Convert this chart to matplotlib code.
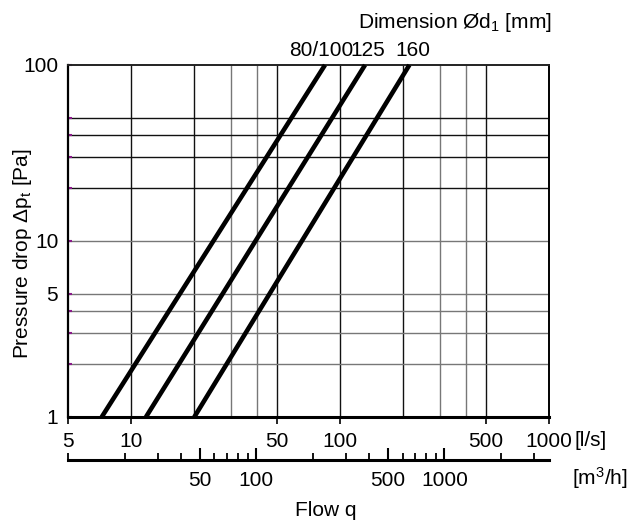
import matplotlib
matplotlib.use("Agg")
import matplotlib.pyplot as plt
from matplotlib.ticker import NullFormatter, NullLocator

plt.rcParams['font.family'] = ['Liberation Sans', 'DejaVu Sans']
plt.rcParams['mathtext.fontset'] = 'custom'
plt.rcParams['mathtext.rm'] = 'Liberation Sans'
plt.rcParams['mathtext.it'] = 'Liberation Sans'
plt.rcParams['mathtext.default'] = 'rm'
FS = 15

# ---- data ----
dimensions = ["80/100", "125", "160"]
flow_ls_start = [7.25, 11.8, 20.1]     # l/s at 1 Pa
flow_ls_end = [84.8, 131.8, 214.8]     # l/s at 100 Pa
dp_start = 1
dp_end = 100

x_ticks = [5, 10, 50, 100, 500, 1000]
x_ticklabels = ["5", "10", "50", "100", "500", "1000"]
y_ticks = [1, 2, 3, 4, 5, 10, 20, 30, 40, 50, 100]
y_ticklabels = ["1", "", "", "", "5", "10", "", "", "", "", "100"]
vgrid_dark = [10, 20, 50, 100, 200, 500]
vgrid_light = [30, 40, 300, 400]
hgrid_dark = [20, 30, 40, 50]
hgrid_light = [2, 3, 4, 5, 10]
m3h_major = [50, 100, 500, 1000]
m3h_labels = ["50", "100", "500", "1000"]
m3h_minor = [10, 20, 30, 40, 60, 70, 80, 90, 200, 300, 400, 600, 700, 800, 900, 2000, 3000]

W, H = 644, 527
fig = plt.figure(figsize=(W / 100, H / 100), dpi=100)

def fx(px):
    return px / W

def fy(py):
    return 1 - py / H

L, R, T, B = 68, 549, 65, 417
ax = fig.add_axes([fx(L), fy(B), fx(R) - fx(L), fy(T) - fy(B)])
ax.set_xscale('log')
ax.set_yscale('log')
ax.set_xlim(5, 1000)
ax.set_ylim(1, 100)

for v in vgrid_dark:
    ax.axvline(v, color='#111111', lw=1.0, zorder=1)
for v in vgrid_light:
    ax.axvline(v, color='#777777', lw=1.0, zorder=1)
for v in hgrid_dark:
    ax.axhline(v, color='#111111', lw=1.0, zorder=1)
for v in hgrid_light:
    ax.axhline(v, color='#777777', lw=1.0, zorder=1)

for x0, x1 in zip(flow_ls_start, flow_ls_end):
    ax.plot([x0, x1], [dp_start, dp_end], color='black', lw=3.3,
            solid_capstyle='butt', clip_on=False, zorder=3)

ax.set_xticks(x_ticks)
ax.set_xticklabels(x_ticklabels)
ax.xaxis.set_minor_locator(NullLocator())
ax.xaxis.set_minor_formatter(NullFormatter())
ax.tick_params(axis='x', which='major', direction='out', length=5, width=1.2,
               pad=6, labelsize=FS)

ax.set_yticks(y_ticks)
ax.set_yticklabels(y_ticklabels)
ax.yaxis.set_minor_locator(NullLocator())
ax.yaxis.set_minor_formatter(NullFormatter())
ax.tick_params(axis='y', which='major', direction='in', length=3, width=1.5,
               color='#8a1a8a', pad=7, labelsize=FS, labelcolor='black')

ax.spines['bottom'].set_linewidth(2.2)
ax.spines['left'].set_linewidth(1.6)
ax.spines['top'].set_linewidth(1.4)
ax.spines['right'].set_linewidth(1.4)
ax.spines['top'].set_color('#222222')

# secondary axis in m3/h
ax2 = fig.add_axes([fx(L), fy(460), fx(R) - fx(L), 0.0001])
ax2.set_xscale('log')
ax2.set_xlim(10, 3600)
ax2.set_yticks([])
for s in ['top', 'left', 'right']:
    ax2.spines[s].set_visible(False)
ax2.spines['bottom'].set_linewidth(2.2)
ax2.patch.set_alpha(0)
ax2.set_xticks(m3h_major)
ax2.set_xticklabels(m3h_labels)
ax2.set_xticks(m3h_minor, minor=True)
ax2.xaxis.set_minor_formatter(NullFormatter())
ax2.tick_params(axis='x', which='major', direction='in', length=9, width=1.5,
                pad=8, labelsize=FS)
ax2.tick_params(axis='x', which='minor', direction='in', length=5, width=1.3)

# texts
fig.text(fx(552), fy(22), "Dimension Ød$_1$ [mm]", ha='right', va='center', fontsize=FS)
label_x = [321, 368, 413]
for name, px in zip(dimensions, label_x):
    fig.text(fx(px), fy(50), name, ha='center', va='center', fontsize=FS)
fig.text(fx(574), fy(440), "[l/s]", ha='left', va='center', fontsize=FS)
fig.text(fx(628), fy(478), "[m$^3$/h]", ha='right', va='center', fontsize=FS)
fig.text(fx(326), fy(511), "Flow q", ha='center', va='center', fontsize=FS)
fig.text(fx(23), fy(254), "Pressure drop Δp$_t$ [Pa]", ha='center', va='center',
         rotation=90, fontsize=FS)

fig.savefig("out.png", dpi=100)
